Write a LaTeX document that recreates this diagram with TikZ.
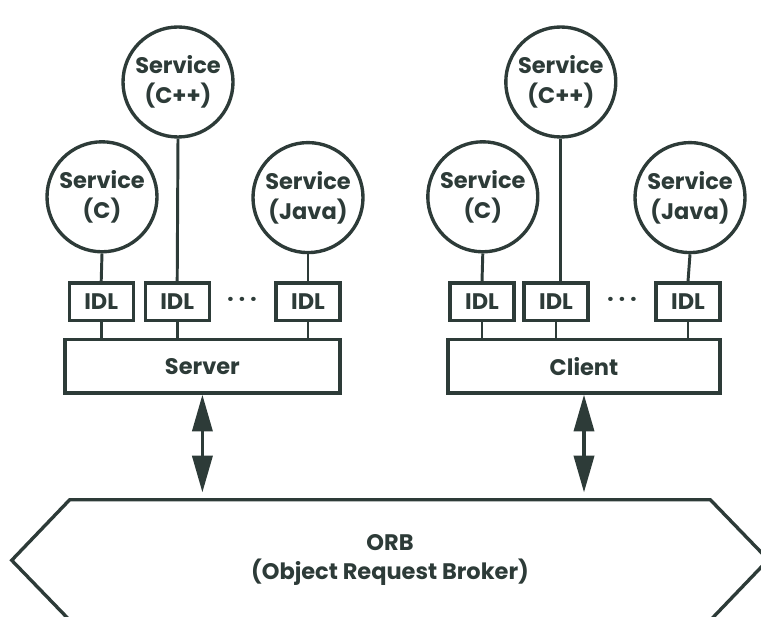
\documentclass[tikz,border=0pt]{standalone}
\usepackage{fontspec}
\setmainfont{Poppins}
\usepackage{xcolor}
\usetikzlibrary{arrows.meta,positioning,calc}
\definecolor{ink}{HTML}{2D3B38}

\begin{document}
\begin{tikzpicture}[
    font=\fontsize{16}{21}\selectfont\bfseries,
    every node/.append style={text=ink},
    svc/.style={circle, draw=ink, line width=2.4pt, minimum size=2.75cm, align=center, inner sep=0pt},
    idlbox/.style={draw=ink, line width=2.3pt, minimum width=1.6cm, minimum height=0.93cm, inner sep=0pt},
    hostbox/.style={draw=ink, line width=2.3pt, minimum height=1.33cm, inner sep=0pt},
    link/.style={draw=ink, line width=2.1pt},
    biarrow/.style={{Triangle[length=0.92cm,width=0.5cm]}-{Triangle[length=0.92cm,width=0.5cm]}, draw=ink, fill=ink, line width=2.6pt}
]
\path[use as bounding box, clip] (0,0) rectangle (19.025,-15.425);
% server side
\node[svc] (cppS) at (4.45,-2.05) {Service\\(C++)};
\node[svc] (cS) at (2.55,-4.92) {Service\\(C)};
\node[svc] (jS) at (7.7,-4.94) {Service\\(Java)};
\node[idlbox] (idlS1) at (2.53,-7.54) {IDL};
\node[idlbox] (idlS2) at (4.43,-7.54) {IDL};
\node[idlbox] (idlS3) at (7.7,-7.54) {IDL};
\node (dotsS) at (6.05,-7.54) {· · ·};
\node[hostbox, minimum width=6.875cm] (server) at (5.06,-9.16) {Server};
\draw[link] (cS.south) -- (idlS1.north);
\draw[link] (cppS.south) -- (idlS2.north);
\draw[link] (jS.south) -- (idlS3.north);
\draw[link] (idlS1.south) -- (idlS1.south |- server.north);
\draw[link] (idlS2.south) -- (idlS2.south |- server.north);
\draw[link] (idlS3.south) -- (idlS3.south |- server.north);
% client side
\node[svc] (cppC) at (14.02,-2.05) {Service\\(C++)};
\node[svc] (cC) at (12.07,-4.92) {Service\\(C)};
\node[svc] (jC) at (17.25,-4.94) {Service\\(Java)};
\node[idlbox] (idlC1) at (12.05,-7.54) {IDL};
\node[idlbox] (idlC2) at (13.9,-7.54) {IDL};
\node[idlbox] (idlC3) at (17.2,-7.54) {IDL};
\node (dotsC) at (15.55,-7.54) {· · ·};
\node[hostbox, minimum width=6.8cm] (client) at (14.6,-9.16) {Client};
\draw[link] (cC.south) -- (idlC1.north);
\draw[link] (cppC.south) -- (cppC.south |- idlC2.north);
\draw[link] (jC.south) -- (idlC3.north);
\draw[link] (idlC1.south) -- (idlC1.south |- client.north);
\draw[link] (idlC2.south) -- (idlC2.south |- client.north);
\draw[link] (idlC3.south) -- (idlC3.south |- client.north);
% broker
\node[minimum width=16cm, minimum height=3cm, align=center, inner sep=0pt] (orb) at (9.75,-14.0) {ORB\\(Object Request Broker)};
\draw[link, line width=2.4pt, line join=miter] (orb.north west) -- (orb.north east) -- ++(1.45,-1.5) -- (orb.south east) -- (orb.south west) -- ++(-1.45,1.5) -- cycle;
\draw[biarrow, shorten >=0.18cm] (server.south) -- (server.south |- orb.north);
\draw[biarrow, shorten >=0.18cm] (client.south) -- (client.south |- orb.north);
\end{tikzpicture}
\end{document}
